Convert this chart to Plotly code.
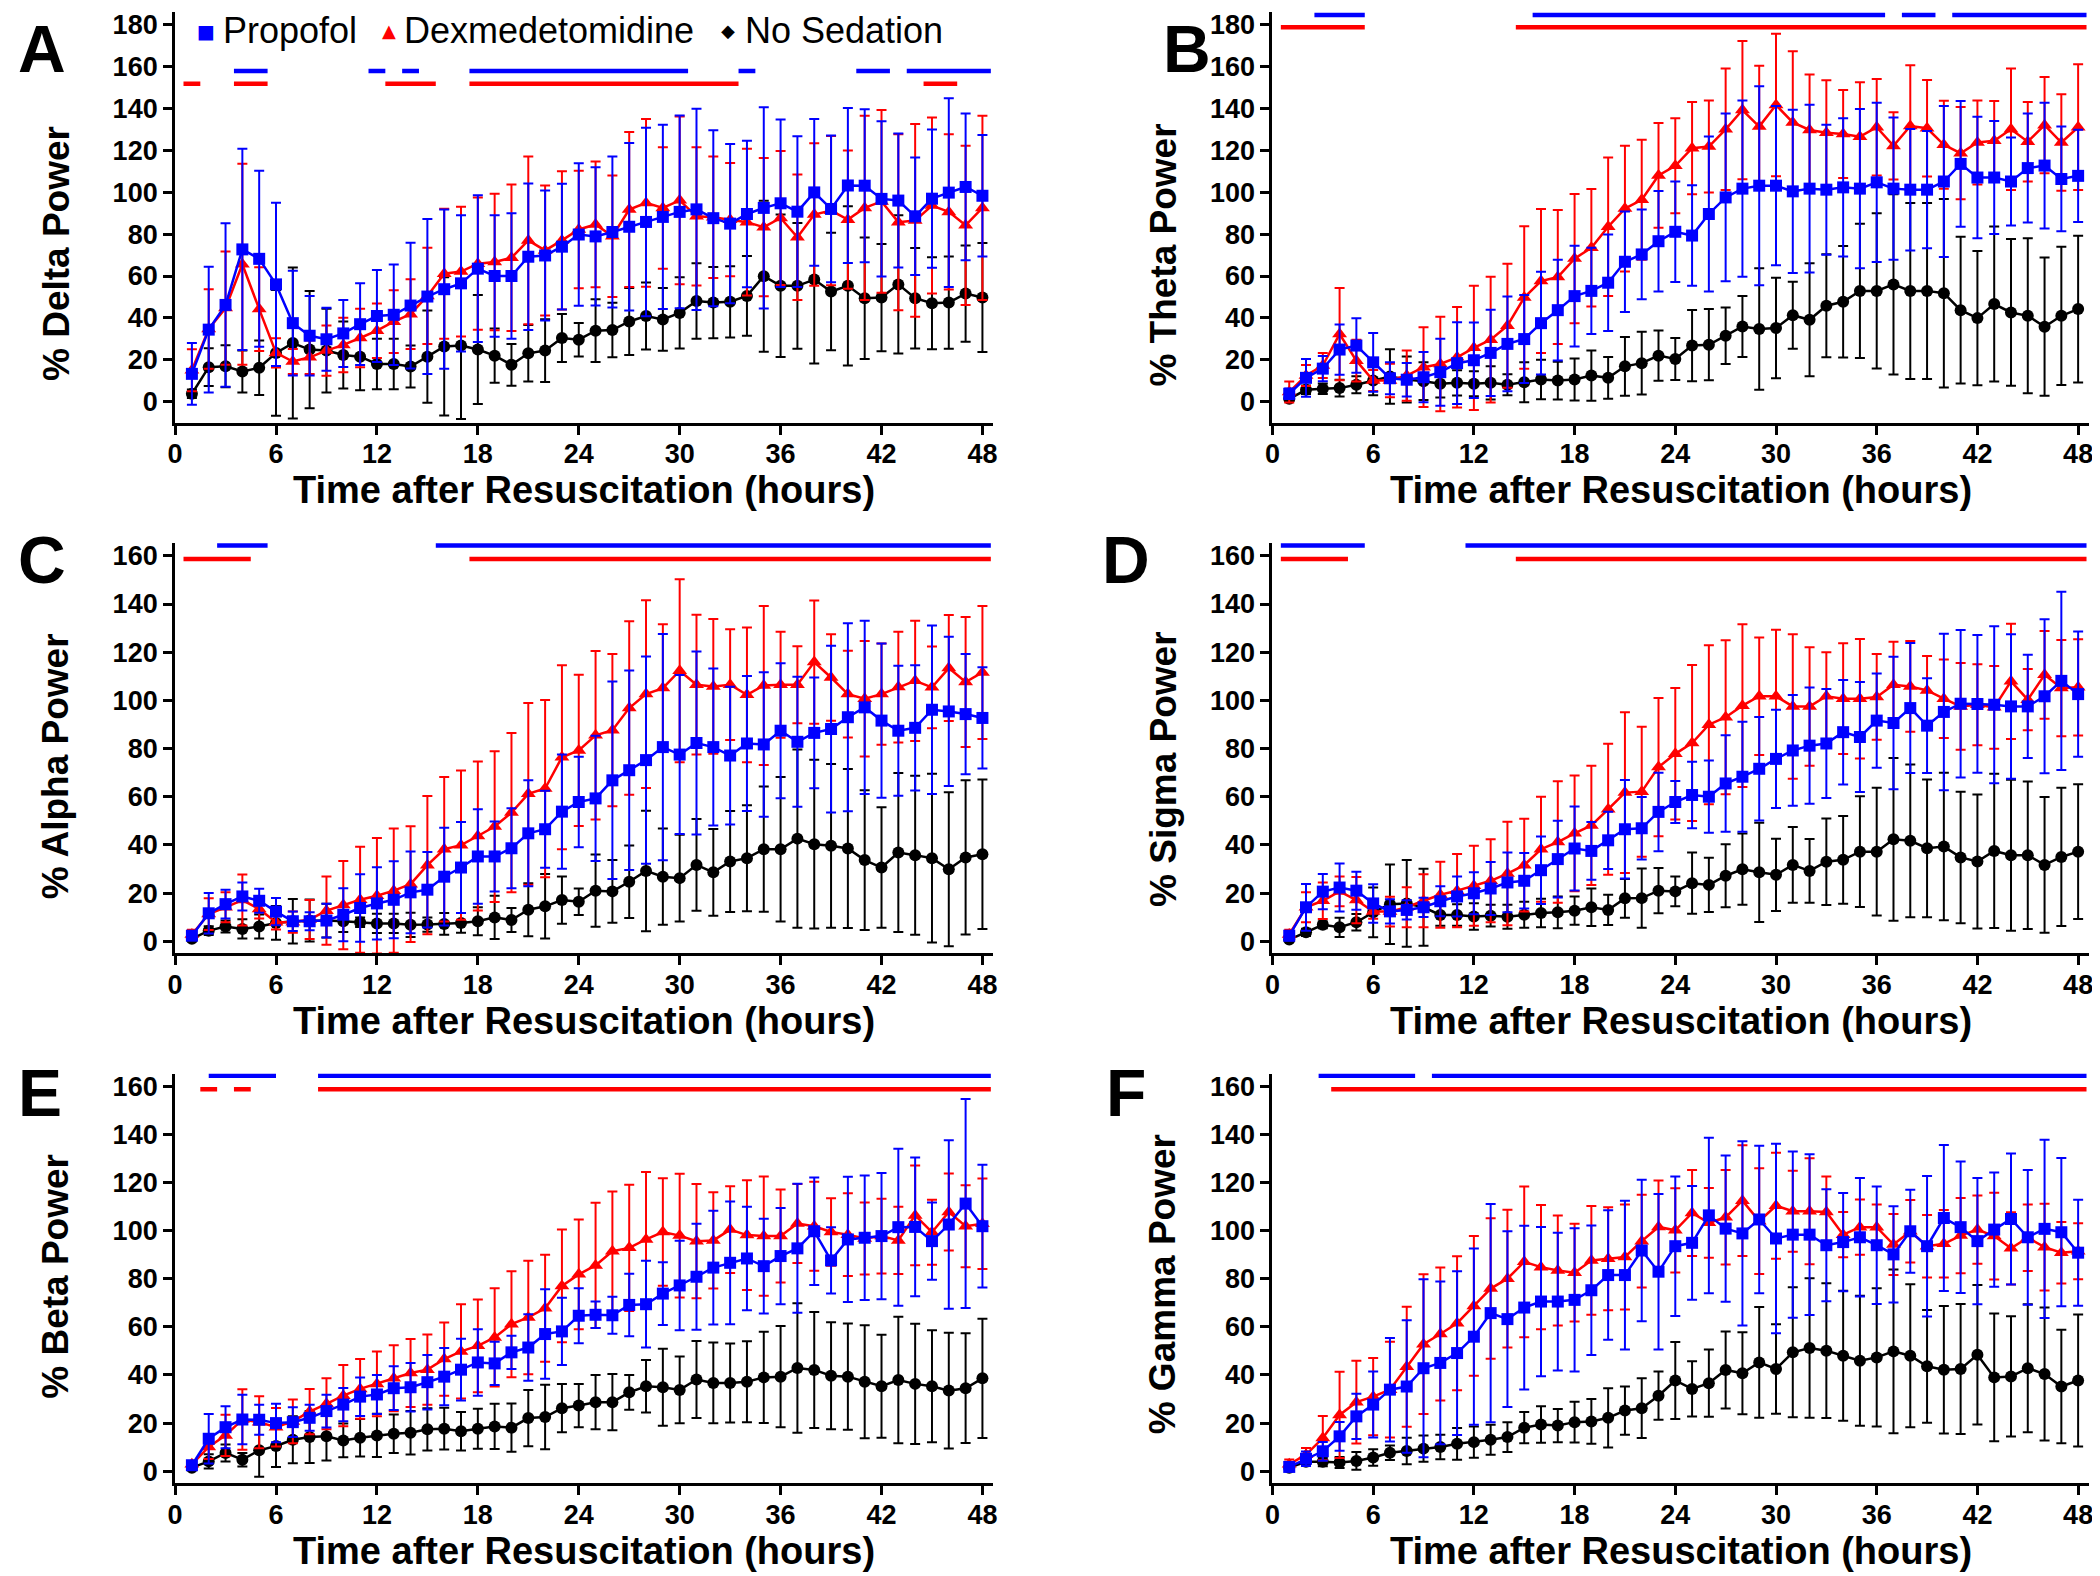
import plotly.graph_objects as go

# ---------------- data ----------------
hours = list(range(1, 49))
x_tick_vals = [0, 6, 12, 18, 24, 30, 36, 42, 48]
y_ticks_180 = [0, 20, 40, 60, 80, 100, 120, 140, 160, 180]
y_ticks_160 = [0, 20, 40, 60, 80, 100, 120, 140, 160]
series_names = ["Propofol", "Dexmedetomidine", "No Sedation"]
x_title = "Time after Resuscitation (hours)"

# Panel A - Delta
delta_prop = [13.3, 34.4, 46.2, 72.7, 68.2, 56.0, 37.5, 31.5, 29.8, 32.6, 37.0, 40.9, 41.5, 45.9, 50.2, 53.7, 56.5, 63.5, 60.0, 60.0,
              69.2, 69.8, 74.0, 79.8, 78.9, 81.0, 83.5, 85.8, 88.2, 90.6, 91.8, 87.6, 85.0, 89.6, 92.5, 94.7, 90.7, 99.9, 92.0, 103.2,
              103.1, 96.8, 96.0, 88.5, 96.9, 99.8, 102.5, 98.3]
delta_prop_sd = [14.7, 30, 39, 48, 42, 39, 25, 19, 15, 16, 19.5, 22, 24, 30, 37, 38, 32.5, 35, 29, 30,
                 35, 31, 30, 34, 33, 36, 40, 45, 44, 46, 48, 42, 38, 35, 48, 40, 36, 35, 35, 37,
                 36.5, 37, 32, 28, 33, 45, 35, 29]
delta_dex = [15.0, 34.7, 44.7, 65.6, 44.2, 23.3, 19.2, 21.2, 24.4, 27.1, 30.4, 33.9, 38.2, 41.8, 50.5, 61.1, 62.1, 65.9, 66.7, 68.7,
             77.0, 72.2, 77.0, 82.2, 84.6, 79.0, 91.7, 94.9, 92.5, 96.1, 88.5, 88.0, 86.9, 85.7, 83.3, 87.7, 78.5, 89.3, 91.2, 86.9,
             92.5, 95.6, 85.7, 86.5, 93.6, 90.6, 84.2, 92.5]
delta_dex_sd = [10, 19, 27, 48, 20, 7, 6, 8, 12, 13, 14, 13, 15, 16.6, 23, 31, 31, 31.6, 32.6, 35,
                40, 31, 33, 28, 30, 29, 37, 40, 29, 40, 33, 29, 27, 35, 33, 32, 30, 34, 35.6, 33,
                44, 43.6, 42, 46, 42, 37, 38, 44]
delta_none = [3.8, 16.5, 16.9, 14.4, 16.2, 23.3, 28.0, 24.9, 24.4, 22.3, 21.5, 18.0, 18.0, 16.8, 21.5, 26.4, 26.8, 24.9, 22.0, 17.6,
              23.1, 24.4, 30.4, 29.6, 33.9, 34.2, 38.3, 40.9, 39.3, 42.4, 48.1, 47.3, 47.7, 50.5, 59.9, 55.3, 55.3, 58.3, 52.6, 55.3,
              49.4, 49.7, 56.0, 49.4, 47.0, 47.3, 51.6, 49.7]
delta_none_sd = [2, 9, 10, 10, 13, 30, 36, 28, 20, 16, 16, 12, 12, 10, 22, 33, 35, 26, 13, 10,
                 13.5, 15, 11.5, 8, 15, 13, 16, 16, 15, 17, 18, 17, 17, 19, 36, 34, 30, 40, 28, 38,
                 29, 25.6, 33, 24, 22, 22, 23, 26]
delta_sig_prop = [(3.5, 5.5), (11.5, 12.5), (13.5, 14.5), (17.5, 30.5), (33.5, 34.5), (40.5, 42.5), (43.5, 48.5)]
delta_sig_dex = [(0.5, 1.5), (3.5, 5.5), (12.5, 15.5), (17.5, 33.5), (44.5, 46.5)]

# Panel B - Theta
theta_prop = [3.8, 11.4, 15.8, 24.9, 26.8, 18.8, 11.2, 10.5, 11.7, 14.1, 18.4, 19.8, 23.3, 27.6, 29.9, 37.5, 43.7, 50.4, 52.9, 56.8,
              66.8, 70.3, 76.6, 81.1, 79.3, 89.6, 97.5, 101.7, 103.1, 103.1, 100.4, 101.7, 101.2, 102.3, 101.7, 104.7, 101.7, 101.2, 101.2, 105.1,
              113.5, 107.0, 107.0, 105.1, 111.5, 112.7, 106.3, 107.8]
theta_prop_sd = [2.5, 9, 6, 12, 13, 14, 7.6, 8, 12, 16, 19.5, 18, 20.6, 22.6, 21, 24.5, 24, 24, 20.6, 23,
                 24, 21.4, 24, 24, 24, 37, 40, 42, 47.5, 38, 39, 40, 31, 33, 38, 38, 34, 29, 28, 36,
                 30, 29, 27, 21, 26, 30, 25, 22]
theta_dex = [4.6, 12.5, 17.3, 32.3, 19.6, 10.1, 10.1, 12.5, 16.5, 18.0, 21.2, 25.7, 29.6, 36.3, 49.7, 57.6, 59.5, 68.3, 73.5, 83.5,
             92.2, 96.4, 108.0, 112.6, 121.0, 121.8, 130.0, 139.2, 131.3, 141.6, 133.3, 129.7, 128.4, 127.8, 126.5, 131.0, 122.1, 131.6, 130.5, 122.6,
             118.6, 123.7, 124.5, 130.0, 124.1, 132.0, 123.7, 131.0]
theta_dex_sd = [5, 5, 6, 22, 10, 5, 8, 12, 19, 22.5, 24, 29.6, 30, 29.6, 34, 34.4, 32, 30.8, 28, 33,
                30, 28.6, 25, 22.7, 22, 22, 29, 33, 29, 34, 34, 26.5, 25, 21, 26, 23, 16, 29, 23, 21,
                22, 20, 19, 29, 19, 23, 23, 30]
theta_none = [1.4, 5.7, 6.2, 6.5, 8.1, 10.1, 12.0, 10.6, 9.8, 8.6, 9.0, 8.6, 9.0, 8.1, 9.3, 10.6, 10.1, 10.6, 12.5, 11.4,
              16.9, 18.4, 22.0, 20.4, 26.8, 27.2, 31.5, 35.9, 34.7, 35.2, 41.3, 39.1, 45.8, 47.7, 52.9, 52.9, 56.0, 52.9, 52.9, 51.8,
              43.7, 39.9, 46.6, 42.6, 41.0, 35.8, 41.0, 44.2]
theta_none_sd = [1, 2, 2.5, 4, 4, 7, 13, 11, 9, 6.6, 6, 6, 7.9, 5, 9.5, 9.4, 9, 10, 12, 10,
                 14, 15, 12, 10, 17, 17, 13.5, 14.6, 29, 24, 16, 27, 24.6, 26.6, 32, 37, 43, 42, 42, 45,
                 35, 32, 37, 35, 37, 33, 33, 35]
theta_sig_prop = [(2.5, 5.5), (15.5, 36.5), (37.5, 39.5), (40.5, 48.5)]
theta_sig_dex = [(0.5, 5.5), (14.5, 48.5)]

# Panel C - Alpha
alpha_prop = [2.3, 11.6, 15.4, 18.6, 16.8, 12.3, 8.3, 8.3, 8.6, 11.0, 13.8, 15.7, 17.2, 20.3, 21.4, 26.8, 30.6, 35.2, 35.2, 38.6,
              44.8, 46.5, 53.8, 57.8, 59.3, 66.8, 71.0, 75.2, 80.6, 77.5, 82.3, 80.6, 77.1, 82.1, 81.7, 87.4, 82.8, 86.5, 88.1, 93.0,
              97.1, 91.6, 87.4, 88.6, 96.1, 95.4, 94.3, 92.7]
alpha_prop_sd = [1.5, 8.4, 6, 5.8, 5, 5.7, 4, 3.7, 7, 11, 14, 15, 16, 17, 15.7, 20.3, 18.9, 19.6, 14.5, 16.6,
                 22, 16, 23.7, 18.8, 26, 41, 41.4, 43, 47, 33, 38, 32.6, 28.6, 28, 30, 28, 27, 23, 34.6, 39,
                 36, 32, 27, 26, 35, 31, 25, 21]
alpha_dex = [2.8, 11.3, 14.1, 17.1, 13.4, 7.9, 7.9, 9.0, 12.7, 15.0, 17.2, 18.9, 21.0, 23.7, 31.6, 38.2, 39.9, 43.7, 47.6, 53.4,
             61.2, 63.4, 76.4, 79.2, 85.5, 87.6, 96.8, 102.6, 105.1, 112.3, 106.5, 105.8, 106.5, 102.3, 106.2, 106.5, 106.5, 115.9, 109.5, 102.6,
             100.7, 102.6, 105.5, 108.1, 105.4, 113.4, 107.6, 111.6]
alpha_dex_sd = [2, 6.6, 6.2, 10.6, 4, 3, 4.4, 8.1, 14.2, 18.3, 22, 24, 25.8, 24, 28.7, 30, 31, 30.9, 31.3, 33.1,
                37.7, 36.8, 38.2, 31.4, 35, 31.6, 36, 39, 26.5, 38, 29, 28, 23, 28, 33, 22, 16, 25.6, 18, 18,
                24, 21, 23, 25, 17, 22, 27, 27.6]
alpha_none = [1.0, 4.4, 6.1, 5.1, 6.1, 7.6, 8.3, 8.6, 8.6, 8.3, 7.9, 7.4, 7.4, 6.8, 6.9, 7.2, 7.6, 8.3, 9.9, 8.8,
              13.1, 14.5, 17.1, 16.4, 21.0, 20.7, 24.7, 29.2, 26.8, 26.2, 31.7, 28.6, 33.1, 34.5, 38.2, 38.2, 42.6, 40.3, 39.6, 38.5,
              33.7, 30.6, 36.8, 35.7, 34.5, 29.9, 34.8, 36.1]
alpha_none_sd = [1, 1.8, 2.5, 4, 5, 7, 9.2, 8.7, 7, 4.5, 2, 4, 4, 5, 3, 4.5, 4.1, 5.8, 9, 5,
                 11, 13.4, 9.8, 5.5, 15, 13, 15, 25, 20, 18, 19, 18, 21, 22, 26, 30, 37, 35, 34, 33,
                 29, 25, 33, 33, 35, 32, 32, 31]
alpha_sig_prop = [(2.5, 5.5), (15.5, 48.5)]
alpha_sig_dex = [(0.5, 4.5), (17.5, 48.5)]

# Panel D - Sigma
sigma_prop = [2.3, 14.1, 20.6, 22.3, 21.0, 15.7, 12.4, 13.0, 14.1, 16.6, 18.6, 19.9, 21.9, 24.4, 25.1, 29.5, 34.1, 38.5, 37.5, 41.9,
              46.5, 46.9, 53.7, 57.8, 60.7, 60.0, 65.5, 68.3, 71.6, 75.7, 79.2, 81.2, 82.1, 86.8, 84.8, 91.6, 90.6, 96.8, 89.5, 95.2,
              98.6, 98.5, 98.2, 97.5, 97.5, 101.7, 108.1, 102.6]
sigma_prop_sd = [2, 9.7, 7.3, 10, 7.9, 8, 5, 4, 4, 6.2, 8.3, 8.7, 11, 12.4, 11.5, 14, 15.9, 17.4, 12, 11.9,
                 20.4, 13, 16.3, 8.7, 13.8, 15, 20, 22.8, 21.5, 20.4, 23, 24.1, 22.6, 21.7, 22.8, 19.6, 27.5, 27, 19.7, 32.5,
                 30.6, 28.6, 32.6, 30, 21.4, 32, 37, 26]
sigma_dex = [2.8, 14.1, 16.8, 20.7, 17.1, 12.3, 12.3, 14.1, 16.8, 19.3, 21.0, 23.0, 25.1, 28.1, 31.6, 38.2, 41.2, 44.8, 48.1, 54.8,
             61.7, 62.1, 72.3, 77.8, 82.3, 89.9, 93.0, 97.8, 101.7, 101.7, 97.5, 97.5, 101.7, 100.7, 100.7, 101.4, 106.5, 105.8, 104.1, 100.7,
             97.5, 98.2, 97.1, 107.9, 100.3, 110.6, 105.1, 105.4]
sigma_dex_sd = [2, 6.2, 7.6, 6.2, 9.6, 3, 6.2, 8.3, 11, 13.7, 15.2, 16.6, 17.2, 21.5, 19.3, 21.8, 25.2, 24, 24.8, 27.2,
                33.4, 27, 28.7, 27.3, 32.4, 33, 32, 33.8, 24.4, 27.6, 30, 24.6, 18.3, 23, 24.8, 17.8, 17.8, 18.8, 14.3, 16.3,
                18, 16.8, 17.2, 23.9, 12.7, 18.2, 20, 20]
sigma_none = [0.7, 3.7, 6.8, 5.8, 7.9, 12.0, 15.4, 15.7, 14.1, 10.9, 10.9, 10.3, 10.6, 10.2, 11.0, 11.7, 12.0, 12.7, 14.1, 13.0,
              17.8, 17.9, 21.0, 20.7, 24.1, 23.4, 27.2, 29.9, 28.6, 27.6, 31.7, 29.2, 33.0, 33.8, 37.2, 37.2, 42.3, 41.7, 38.6, 39.3,
              34.8, 33.1, 37.5, 35.7, 35.7, 31.7, 35.0, 37.2]
sigma_none_sd = [0.5, 1.5, 1.4, 4, 3.4, 10.3, 16.5, 18, 16, 4.5, 4.5, 5.5, 4.5, 5, 5.4, 5.9, 6.6, 5.9, 7.8, 6.3,
                 8, 12.3, 9.4, 6.2, 12.7, 11.3, 13.1, 14.8, 20.6, 15, 15.7, 13.2, 18, 18.2, 23, 26.5, 33.8, 31.7, 28.6, 30.6,
                 27.3, 27.8, 32, 31.3, 30.6, 28.2, 28.7, 28]
sigma_sig_prop = [(0.5, 5.5), (11.5, 48.5)]
sigma_sig_dex = [(0.5, 4.5), (14.5, 48.5)]

# Panel E - Beta
beta_prop = [2.5, 13.5, 18.3, 21.5, 21.4, 20.0, 20.4, 22.2, 25.0, 27.7, 31.0, 31.9, 34.5, 34.9, 37.0, 39.3, 42.2, 45.2, 44.8, 49.4,
             51.4, 57.0, 58.1, 64.6, 65.0, 64.8, 69.1, 69.4, 73.8, 77.2, 80.8, 84.6, 86.6, 88.4, 85.2, 89.4, 92.6, 99.7, 87.6, 96.3,
             97.0, 97.7, 101.4, 101.5, 95.6, 102.5, 111.2, 101.8]
beta_prop_sd = [1, 10.3, 8.7, 10.3, 6.2, 8, 6.2, 5.4, 6.8, 6.9, 8, 8.1, 9.1, 10.1, 11.3, 11.9, 12.8, 13.8, 9, 6.9,
                13.8, 18.6, 14, 11.4, 5.5, 7.7, 13, 18, 13, 18.6, 22, 23.6, 25.5, 21.5, 19.7, 20, 26.8, 22.3, 13.8, 26,
                25.9, 26.2, 32.6, 28.8, 16, 35, 43.4, 25.5]
beta_dex = [2.9, 10.1, 14.9, 21.5, 20.4, 18.3, 20.7, 24.8, 28.0, 31.4, 34.2, 36.3, 38.6, 40.8, 42.2, 46.6, 49.8, 52.1, 55.6, 61.1,
            63.9, 67.7, 77.0, 81.8, 85.5, 91.4, 92.8, 96.3, 99.4, 97.9, 95.6, 95.9, 100.4, 98.1, 97.7, 97.7, 102.9, 101.8, 99.4, 98.3,
            96.7, 97.7, 95.9, 106.3, 99.3, 107.7, 101.8, 102.8]
beta_dex_sd = [1, 5, 8.6, 12.6, 10.8, 8, 9.1, 9.4, 10.6, 12.7, 12.4, 13.4, 13.7, 14.1, 14.6, 15.2, 19.6, 19.3, 20.4, 22,
               23.6, 22.2, 23.4, 22.8, 26, 24.8, 26.2, 28, 22.3, 25.7, 23.7, 20, 18, 22.8, 24.8, 19.3, 16.4, 18.5, 14, 17.2,
               15, 15.5, 14, 20.7, 13.5, 16, 17, 18.8]
beta_none = [1.5, 4.1, 7.6, 4.8, 8.7, 10.5, 13.1, 14.2, 14.5, 12.8, 13.9, 14.9, 15.6, 16.0, 17.4, 17.7, 16.6, 17.7, 18.6, 18.1,
             22.1, 22.5, 26.2, 27.3, 28.7, 28.7, 32.8, 35.3, 34.9, 33.8, 38.1, 36.7, 36.7, 37.2, 39.0, 39.3, 42.9, 42.1, 39.7, 39.3,
             37.2, 35.3, 37.9, 36.3, 35.3, 33.5, 34.5, 38.6]
beta_none_sd = [1, 3, 3.5, 2.8, 11, 8.7, 9.8, 10.8, 10, 7, 7.8, 9, 8, 9, 8.8, 8.7, 8, 8.3, 9.4, 10,
                11.7, 13.4, 10, 9, 11.3, 11.7, 7.2, 10.9, 16, 13.9, 16, 16.8, 16.4, 16.8, 19, 21, 26.9, 24.1, 22.2, 22.1,
                23.5, 21.4, 26.3, 25, 23.3, 24, 22.8, 24.8]
beta_sig_prop = [(2.0, 6.0), (8.5, 48.5)]
beta_sig_dex = [(1.5, 2.5), (3.5, 4.5), (8.5, 48.5)]

# Panel F - Gamma
gamma_prop = [1.8, 5.2, 8.3, 14.5, 22.8, 27.7, 33.9, 35.2, 42.8, 45.0, 49.1, 55.9, 65.7, 63.2, 68.0, 70.5, 70.5, 71.2, 75.2, 81.5,
              81.5, 91.7, 82.9, 93.5, 94.9, 106.3, 100.8, 98.8, 104.6, 96.7, 98.3, 98.3, 93.9, 95.2, 97.2, 93.9, 90.1, 99.7, 93.5, 105.2,
              101.4, 95.6, 100.4, 104.8, 97.2, 100.7, 99.3, 90.8]
gamma_prop_sd = [1, 3, 3.9, 6, 9.4, 13.7, 21.5, 27.5, 37, 33.8, 34, 36.6, 45.3, 36.5, 34, 31, 28.6, 29.8, 26.9, 26.9,
                 30.9, 29.4, 32.3, 29, 23.6, 32.3, 30.4, 38.3, 30.6, 39.4, 34.5, 33.4, 23.3, 20.4, 24.6, 24.4, 20, 17.2, 29.2, 30.3,
                 27.3, 26.2, 23.7, 27.2, 28, 37, 30.8, 22]
gamma_dex = [2.9, 6.9, 13.8, 23.4, 28.7, 31.0, 33.9, 43.4, 52.8, 57.0, 61.5, 68.7, 75.9, 80.0, 87.0, 84.8, 83.4, 82.5, 87.6, 88.3,
             89.0, 95.6, 101.5, 100.1, 107.3, 103.2, 105.5, 112.4, 103.9, 110.3, 108.0, 108.0, 107.7, 98.3, 101.4, 101.4, 94.2, 99.7, 93.5, 94.5,
             97.9, 100.4, 97.7, 92.6, 97.0, 93.1, 90.8, 91.4]
gamma_dex_sd = [2, 2.8, 9.2, 17.9, 17.2, 16, 19.9, 24.9, 29, 27.6, 27.8, 29, 29.2, 28.6, 31.3, 25.8, 22.9, 20.3, 22.6, 21.4,
                21.8, 19.3, 19.3, 17.5, 17.9, 14.5, 19.6, 23, 22, 22, 16.8, 22, 14.8, 9.4, 11.5, 9.4, 12.7, 13, 13, 14,
                15.6, 14.2, 18, 15, 13.8, 18, 12.8, 11.6]
gamma_none = [1.5, 3.9, 3.9, 3.6, 4.3, 5.7, 7.7, 8.4, 9.4, 10.1, 11.4, 12.1, 13.1, 14.2, 18.1, 19.4, 19.0, 20.4, 20.7, 22.2,
              25.2, 26.2, 31.4, 37.7, 34.2, 36.6, 42.1, 40.7, 45.2, 42.5, 49.4, 51.2, 50.1, 48.0, 45.9, 47.3, 49.8, 48.0, 43.6, 42.2,
              42.5, 48.4, 39.0, 39.4, 42.8, 40.4, 35.2, 37.7]
gamma_none_sd = [1, 1.4, 1.8, 2.3, 3.7, 3.4, 3, 5.5, 5.5, 5.1, 6.6, 6.5, 6.2, 6.2, 6.5, 7.6, 6.9, 8.5, 9.3, 12.3,
                 10, 12.4, 10, 16, 11.5, 14, 16, 17, 23, 18.6, 27, 29, 28, 27, 27, 28.7, 34, 29.7, 23.4, 26.5,
                 27, 29, 26.5, 25, 26.6, 27.6, 23.6, 27.4]
gamma_sig_prop = [(2.75, 8.5), (9.5, 48.5)]
gamma_sig_dex = [(3.5, 48.5)]

# ---------------- styling ----------------
BLUE, RED, BLACK = "#0000FF", "#FF0000", "#000000"
FONT = "Liberation Sans, Arial, Helvetica, sans-serif"
PAGE_W, PAGE_H = 2100, 1576
BODY = 8                                   # default page margin around the figure
W, H = PAGE_W - BODY, PAGE_H - BODY

def fx(px):   # page x (px) -> paper x
    return (px - BODY) / W

def fy(py):   # page y (px, from top) -> paper y
    return 1 - (py - BODY) / H

panels = [
    dict(letter="A", ytitle="% Delta Power", prop=delta_prop, prop_sd=delta_prop_sd, dex=delta_dex, dex_sd=delta_dex_sd,
         none=delta_none, none_sd=delta_none_sd, sig_prop=delta_sig_prop, sig_dex=delta_sig_dex,
         yticks=y_ticks_180, yrange=[-10, 186], sig_levels=(157.8, 151.8)),
    dict(letter="B", ytitle="% Theta Power", prop=theta_prop, prop_sd=theta_prop_sd, dex=theta_dex, dex_sd=theta_dex_sd,
         none=theta_none, none_sd=theta_none_sd, sig_prop=theta_sig_prop, sig_dex=theta_sig_dex,
         yticks=y_ticks_180, yrange=[-10, 186], sig_levels=(184.6, 178.7)),
    dict(letter="C", ytitle="% Alpha Power", prop=alpha_prop, prop_sd=alpha_prop_sd, dex=alpha_dex, dex_sd=alpha_dex_sd,
         none=alpha_none, none_sd=alpha_none_sd, sig_prop=alpha_sig_prop, sig_dex=alpha_sig_dex,
         yticks=y_ticks_160, yrange=[-5, 165.5], sig_levels=(164.3, 158.7)),
    dict(letter="D", ytitle="% Sigma Power", prop=sigma_prop, prop_sd=sigma_prop_sd, dex=sigma_dex, dex_sd=sigma_dex_sd,
         none=sigma_none, none_sd=sigma_none_sd, sig_prop=sigma_sig_prop, sig_dex=sigma_sig_dex,
         yticks=y_ticks_160, yrange=[-5, 165.5], sig_levels=(164.3, 158.7)),
    dict(letter="E", ytitle="% Beta Power", prop=beta_prop, prop_sd=beta_prop_sd, dex=beta_dex, dex_sd=beta_dex_sd,
         none=beta_none, none_sd=beta_none_sd, sig_prop=beta_sig_prop, sig_dex=beta_sig_dex,
         yticks=y_ticks_160, yrange=[-5, 165.2], sig_levels=(164.3, 158.7)),
    dict(letter="F", ytitle="% Gamma Power", prop=gamma_prop, prop_sd=gamma_prop_sd, dex=gamma_dex, dex_sd=gamma_dex_sd,
         none=gamma_none, none_sd=gamma_none_sd, sig_prop=gamma_sig_prop, sig_dex=gamma_sig_dex,
         yticks=y_ticks_160, yrange=[-5, 165.2], sig_levels=(164.3, 158.7)),
]

# page-pixel geometry of the reference
col_px = [(168, 991), (1271.7, 2093)]
row_px = [(10, 422), (542.3, 954.3), (1075, 1486)]
ytitle_px = [(48, 252), (1162, 254), (48, 767), (1162, 769), (48, 1278), (1162, 1286)]
letter_px = [(8, None), (1186, None), (8, 560), (1124, 560), (8, 1094), (1124, 1094)]
# legend key: (marker centre x, text left x) in page px, shared row
legend_px = [(199, 214), (383, 396), (724, 739)]
legend_y = 29
legend_glyphs = [("\u25A0", BLUE, 19), ("\u25B2", RED, 18), ("\u25C6", BLACK, 18)]

fig = go.Figure()
layout = dict(width=W, height=H, margin=dict(l=0, r=0, t=0, b=0), autosize=False,
              paper_bgcolor="white", plot_bgcolor="white", showlegend=False,
              font=dict(family=FONT, color="black"), annotations=[])

def bold(size):
    return dict(family=FONT, size=size, color="black", weight="bold")

for i, p in enumerate(panels):
    r, c = divmod(i, 2)
    n = i + 1
    xa = "x" if n == 1 else f"x{n}"
    ya = "y" if n == 1 else f"y{n}"
    # significance bars
    for segs, level, color in [(p["sig_prop"], p["sig_levels"][0], BLUE), (p["sig_dex"], p["sig_levels"][1], RED)]:
        xs, ys = [], []
        for s, e in segs:
            xs += [s, e, None]
            ys += [level, level, None]
        fig.add_trace(go.Scatter(x=xs, y=ys, mode="lines", line=dict(color=color, width=4.5),
                                 xaxis=xa, yaxis=ya, showlegend=False, hoverinfo="skip", cliponaxis=False))
    # data series
    for name, mean, sd, color, sym, size in [(series_names[2], p["none"], p["none_sd"], BLACK, "circle", 12),
                                             (series_names[1], p["dex"], p["dex_sd"], RED, "triangle-up", 13),
                                             (series_names[0], p["prop"], p["prop_sd"], BLUE, "square", 12)]:
        fig.add_trace(go.Scatter(x=hours, y=mean, mode="lines+markers", name=name,
                                 line=dict(color=color, width=2.5),
                                 marker=dict(symbol=sym, size=size, color=color, line=dict(width=0)),
                                 error_y=dict(type="data", array=sd, visible=True, color=color, thickness=2, width=5),
                                 xaxis=xa, yaxis=ya, showlegend=False, cliponaxis=False))
    x0, x1 = col_px[c]
    top, bot = row_px[r]
    xkey = "xaxis" if n == 1 else f"xaxis{n}"
    ykey = "yaxis" if n == 1 else f"yaxis{n}"
    axis_common = dict(showline=True, linewidth=3, linecolor="black", ticks="outside", ticklen=9, tickwidth=3,
                       tickcolor="black", showgrid=False, zeroline=False, tickfont=bold(27), fixedrange=True)
    layout[xkey] = dict(domain=[fx(x0), fx(x1)], anchor=ya, range=[0, 48.65], tickmode="array",
                        tickvals=x_tick_vals, ticklabelstandoff=-4, **axis_common)
    layout[ykey] = dict(domain=[fy(bot), fy(top)], anchor=xa, range=p["yrange"], tickmode="array",
                        tickvals=p["yticks"], **axis_common)
    # x axis title
    layout["annotations"].append(dict(text=x_title, xref="paper", yref="paper", x=fx((x0 + x1) / 2),
                                      y=fy(bot + 68), xanchor="center", yanchor="middle",
                                      showarrow=False, font=bold(38)))
    # y axis title
    tx, ty = ytitle_px[i]
    layout["annotations"].append(dict(text=p["ytitle"], xref="paper", yref="paper", x=fx(tx), y=fy(ty),
                                      xanchor="center", yanchor="middle", textangle=-90,
                                      showarrow=False, font=bold(37)))
    # panel letter
    lx, ly = letter_px[i]
    if ly is None:
        ann = dict(y=1.0, yanchor="top")
    else:
        ann = dict(y=fy(ly), yanchor="middle")
    layout["annotations"].append(dict(text=p["letter"], xref="paper", yref="paper",
                                      x=fx(lx) if c == 1 else 0.0, xanchor="center" if c == 1 else "left",
                                      showarrow=False, font=bold(66), **ann))

# legend (key glyph + label) in the top of panel A
for (mx, tx), (glyph, color, gsize), name in zip(legend_px, legend_glyphs, series_names):
    layout["annotations"].append(dict(text=glyph, xref="paper", yref="paper", x=fx(mx), y=fy(legend_y),
                                      xanchor="center", yanchor="middle", showarrow=False,
                                      font=dict(family="DejaVu Sans", size=gsize, color=color)))
    layout["annotations"].append(dict(text=name, xref="paper", yref="paper", x=fx(tx), y=fy(legend_y),
                                      xanchor="left", yanchor="middle", showarrow=False,
                                      font=dict(family=FONT, size=36, color="black")))

fig.update_layout(**layout)
fig.write_html("out.html")
